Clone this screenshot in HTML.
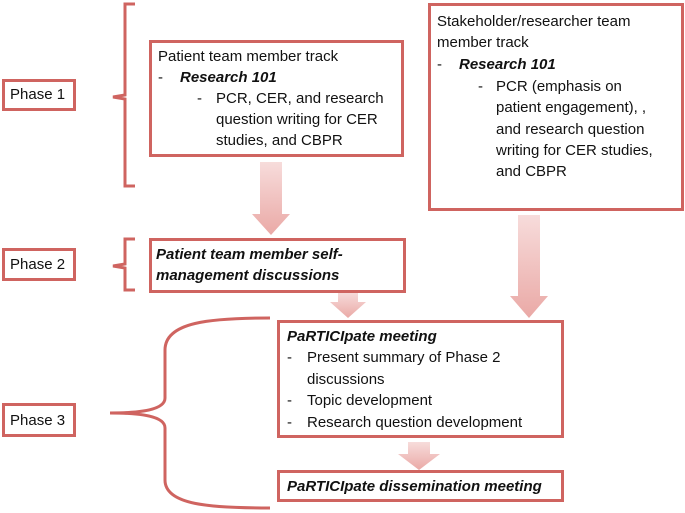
<!DOCTYPE html>
<html><head><meta charset="utf-8"><style>
body{margin:0;width:685px;height:513px;position:relative;background:#fff;font-family:"Liberation Sans",sans-serif;font-size:15px;color:#111;overflow:hidden}
.b{position:absolute;border:3px solid #cf6460;box-sizing:border-box;background:#fff}
.t{position:absolute;white-space:nowrap;line-height:18px}
.bi{font-weight:bold;font-style:italic}
svg{position:absolute;left:0;top:0}
</style></head><body>
<svg width="685" height="513">
<defs><linearGradient id="g" x1="0" y1="0" x2="0" y2="1"><stop offset="0" stop-color="#f7dcdb"/><stop offset="1" stop-color="#eaa9a6"/></linearGradient></defs>
<g fill="none" stroke="#cf6460" stroke-width="3">
<path d="M135 4 H125 V95 L113 97 L125 99 V186 H135"/>
<path d="M135 239 H125 V264 L113 266 L125 268 V290 H135"/>
<path d="M270 318 C210 318 165 322 165 350 V398 C165 410 140 413 110 413 C140 413 165 416 165 428 V480 C165 505 210 508 270 508"/>
</g>
<g fill="url(#g)">
<path d="M260 162 H282 V214 H290 L271 235 L252 214 H260Z"/>
<path d="M518 215 H540 V296 H548 L529 318 L510 296 H518Z"/>
<path d="M338 292 H358 V302 H366 L348 318 L330 302 H338Z"/>
<path d="M408 442 H430 V454 H440 L419 470 L398 454 H408Z"/>
</g>
</svg>
<div class="b" style="left:2px;top:79px;width:74px;height:32px"></div>
<div class="t" style="left:10px;top:86px">Phase 1</div>
<div class="b" style="left:2px;top:248px;width:74px;height:33px"></div>
<div class="t" style="left:10px;top:256px">Phase 2</div>
<div class="b" style="left:2px;top:403px;width:74px;height:34px"></div>
<div class="t" style="left:10px;top:412px">Phase 3</div>

<div class="b" style="left:149px;top:40px;width:255px;height:117px"></div>
<div class="t" style="left:158px;top:48px">Patient team member track</div>
<div class="t" style="left:158px;top:69px">-</div><div class="t bi" style="left:180px;top:69px">Research 101</div>
<div class="t" style="left:197px;top:90px">-</div><div class="t" style="left:216px;top:90px">PCR, CER, and research</div>
<div class="t" style="left:216px;top:111px">question writing for CER</div>
<div class="t" style="left:216px;top:132px">studies, and CBPR</div>

<div class="b" style="left:428px;top:3px;width:256px;height:208px"></div>
<div class="t" style="left:437px;top:13px">Stakeholder/researcher team</div>
<div class="t" style="left:437px;top:34px">member track</div>
<div class="t" style="left:437px;top:56px">-</div><div class="t bi" style="left:459px;top:56px">Research 101</div>
<div class="t" style="left:478px;top:78px">-</div><div class="t" style="left:496px;top:78px">PCR (emphasis on</div>
<div class="t" style="left:496px;top:99px">patient engagement), ,</div>
<div class="t" style="left:496px;top:121px">and research question</div>
<div class="t" style="left:496px;top:142px">writing for CER studies,</div>
<div class="t" style="left:496px;top:163px">and CBPR</div>

<div class="b" style="left:149px;top:238px;width:257px;height:55px"></div>
<div class="t bi" style="left:156px;top:246px">Patient team member self-</div>
<div class="t bi" style="left:156px;top:267px">management discussions</div>

<div class="b" style="left:277px;top:320px;width:287px;height:118px"></div>
<div class="t bi" style="left:287px;top:328px">PaRTICIpate meeting</div>
<div class="t" style="left:287px;top:349px">-</div><div class="t" style="left:307px;top:349px">Present summary of Phase 2</div>
<div class="t" style="left:307px;top:371px">discussions</div>
<div class="t" style="left:287px;top:392px">-</div><div class="t" style="left:307px;top:392px">Topic development</div>
<div class="t" style="left:287px;top:414px">-</div><div class="t" style="left:307px;top:414px">Research question development</div>

<div class="b" style="left:277px;top:470px;width:287px;height:32px"></div>
<div class="t bi" style="left:287px;top:478px">PaRTICIpate dissemination meeting</div>
</body></html>
